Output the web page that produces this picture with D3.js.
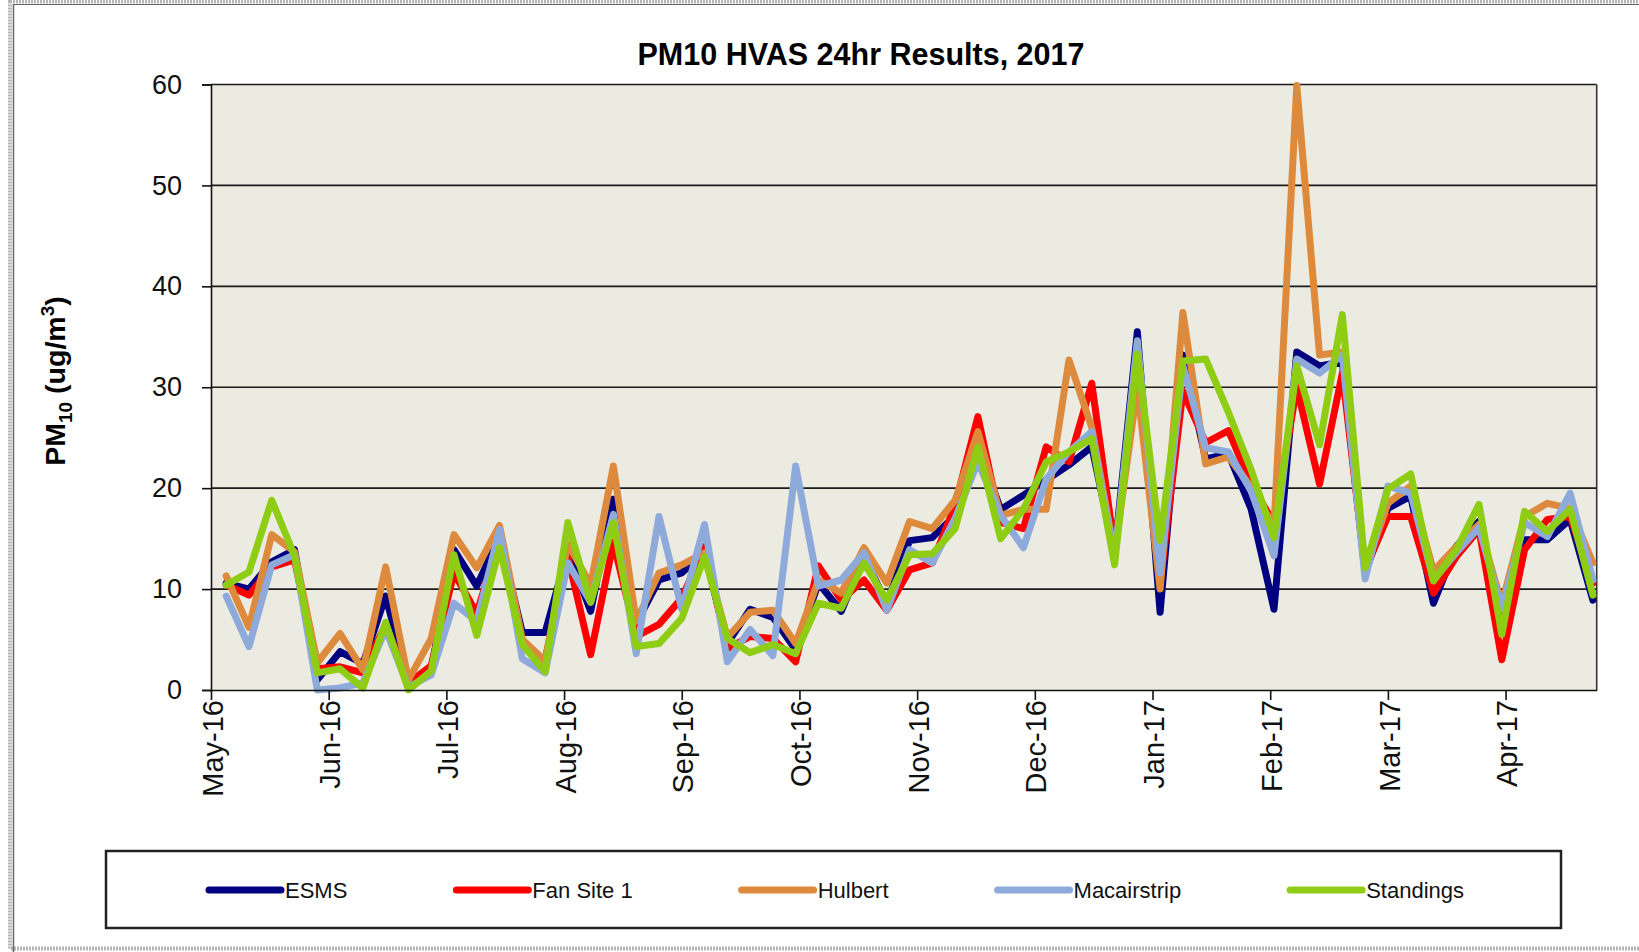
<!DOCTYPE html>
<html>
<head>
<meta charset="utf-8">
<script src="https://cdn.jsdelivr.net/npm/d3@7"></script>
<style>
  body { margin: 0; background: #fff; }
  svg { display: block; font-family: "Liberation Sans", Arial, sans-serif; }
</style>
</head>
<body>
<svg class="plot" width="1639" height="952"></svg>
<script>

// sample days (one every 6 days)
var dates = [
  "2016-05-05","2016-05-11","2016-05-17","2016-05-23","2016-05-29",
  "2016-06-04","2016-06-10","2016-06-16","2016-06-22","2016-06-28",
  "2016-07-04","2016-07-10","2016-07-16","2016-07-22","2016-07-28",
  "2016-08-03","2016-08-09","2016-08-15","2016-08-21","2016-08-27",
  "2016-09-02","2016-09-08","2016-09-14","2016-09-20","2016-09-26",
  "2016-10-02","2016-10-08","2016-10-14","2016-10-20","2016-10-26",
  "2016-11-01","2016-11-07","2016-11-13","2016-11-19","2016-11-25",
  "2016-12-01","2016-12-07","2016-12-13","2016-12-19","2016-12-25","2016-12-31",
  "2017-01-06","2017-01-12","2017-01-18","2017-01-24","2017-01-30",
  "2017-02-05","2017-02-11","2017-02-17","2017-02-23",
  "2017-03-01","2017-03-07","2017-03-13","2017-03-19","2017-03-25","2017-03-31",
  "2017-04-06","2017-04-12","2017-04-18","2017-04-24","2017-04-30"
]

var esms = [10.6,10.0,12.7,13.9,1.0, 3.8,2.6,9.3,0.7,2.1, 13.9,10.3,15.2,5.7,5.7,
  13.8,7.8,18.9,6.6,10.9, 11.6,13.6,4.6,8.0,7.2, 4.0,10.6,7.8,13.2,8.6,
  14.8,15.1,17.3,24.2,17.9, 19.3,20.8,22.3,24.1,13.5,35.5,
  7.7,33.2,22.9,23.4,17.9, 8.0,33.5,32.1,32.5, 11.6,18.0,19.2,8.6,14.2,16.7,
  6.0,14.9,14.9,16.9,8.9]

var fanSite1 = [10.4,9.4,12.2,12.9,2.1, 2.3,1.7,6.5,0.7,2.4, 11.6,7.6,14.9,4.3,3.0,
  13.2,3.5,14.6,5.3,6.5, 9.1,14.2,4.1,5.3,5.1, 2.8,12.3,8.9,10.9,7.9,
  11.9,12.6,18.3,27.1,16.6, 16.0,24.1,22.6,30.4,14.0,31.0,
  10.5,29.6,24.5,25.7,20.4, 16.5,30.0,20.4,31.4, 11.9,17.2,17.2,9.6,13.2,15.9,
  3.0,13.9,16.9,17.2,10.6]

var hulbert = [11.3,6.2,15.4,13.7,2.7, 5.6,2.0,12.2,1.0,5.1, 15.4,12.1,16.3,5.0,2.9,
  14.5,10.4,22.2,6.8,11.6, 12.4,13.6,5.2,7.7,7.9, 4.6,10.9,9.6,14.1,10.6,
  16.7,16.0,18.8,25.6,17.3, 17.9,17.9,32.7,26.0,13.5,30.0,
  10.0,37.4,22.4,23.1,20.1, 16.2,59.9,33.2,33.5, 11.9,18.5,20.2,11.8,14.2,16.4,
  8.5,17.2,18.5,18.0,12.6]

var macairstrip = [9.3,4.3,12.4,13.4,0.0, 0.2,0.7,6.0,0.3,1.5, 8.6,6.8,15.9,3.1,1.7,
  12.6,8.7,17.4,3.6,17.2, 8.0,16.4,2.8,6.0,3.4, 22.2,10.3,10.9,13.6,7.9,
  13.9,12.6,17.0,22.6,17.3, 14.1,20.9,23.6,25.6,13.0,34.6,
  11.6,32.1,24.0,23.6,19.7, 13.3,32.8,31.4,33.2, 11.0,20.2,19.5,10.9,13.6,16.1,
  8.0,16.6,15.2,19.5,10.9]

var standings = [10.4,11.7,18.8,13.3,1.7, 2.1,0.2,6.7,0.0,1.9, 13.4,5.4,14.1,4.5,1.8,
  16.6,8.7,16.6,4.3,4.6, 7.1,13.2,5.1,3.7,4.5, 3.6,8.6,8.1,12.6,8.9,
  13.4,13.5,16.0,24.1,15.0, 17.9,22.6,23.6,24.9,12.4,33.3,
  14.8,32.6,32.8,27.5,21.8, 15.1,32.1,24.3,37.2, 12.1,19.9,21.4,10.8,13.9,18.4,
  5.5,17.7,15.7,17.9,9.4]

var seriesNames = ["ESMS", "Fan Site 1", "Hulbert", "Macairstrip", "Standings"]
var seriesColors = ["#000080", "#ff0000", "#dd8a3c", "#8eaadb", "#8fcc14"]
var seriesValues = [esms, fanSite1, hulbert, macairstrip, standings]

// x ticks land every 31 days from the axis start
var tickDates = ["2016-05-01","2016-06-01","2016-07-02","2016-08-02","2016-09-02","2016-10-03",
  "2016-11-03","2016-12-04","2017-01-04","2017-02-04","2017-03-07","2017-04-07"]
var yTicks = [0, 10, 20, 30, 40, 50, 60]

var title = "PM10 HVAS 24hr Results, 2017"

// plot box
var margin = {top: 84.5, left: 211, right: 1596.7, bottom: 690}

var parse = d3.utcParse("%Y-%m-%d")

var x = d3.scaleUtc()
    .domain([parse("2016-05-01"), parse("2017-05-01")])
    .range([margin.left, margin.right])

var y = d3.scaleLinear()
    .domain([0, 60])
    .range([margin.bottom, margin.top])

var svg = d3.select(".plot")

// grey frame of the original screenshot
svg.append("rect")
    .attr("x", 10).attr("y", 1.5).attr("width", 1640).attr("height", 947)
    .attr("fill", "none").attr("stroke", "#b5b5b5").attr("stroke-width", 4)
    .attr("stroke-dasharray", "2,1")
svg.append("line")
    .attr("x1", 13.5).attr("x2", 13.5).attr("y1", 4).attr("y2", 952)
    .attr("stroke", "#666").attr("stroke-width", 1.5)
svg.append("line")
    .attr("x1", 13).attr("x2", 1639).attr("y1", 4.5).attr("y2", 4.5)
    .attr("stroke", "#666").attr("stroke-width", 1)

// title
svg.append("text")
    .attr("x", 861).attr("y", 65)
    .attr("text-anchor", "middle")
    .attr("font-size", 30.5).attr("font-weight", "bold")
    .text(title)

// plot background
svg.append("rect")
    .attr("x", margin.left).attr("y", margin.top)
    .attr("width", margin.right - margin.left).attr("height", margin.bottom - margin.top)
    .attr("fill", "#ecebe1")

// gridlines
svg.append("g").selectAll("line")
    .data(yTicks.filter(d => d > 0))
    .enter().append("line")
    .attr("x1", margin.left).attr("x2", margin.right)
    .attr("y1", d => y(d)).attr("y2", d => y(d))
    .attr("stroke", "#1a1a1a").attr("stroke-width", 1.6)

// right border
svg.append("line")
    .attr("x1", margin.right).attr("x2", margin.right)
    .attr("y1", margin.top).attr("y2", margin.bottom)
    .attr("stroke", "#333").attr("stroke-width", 1.6)

// the lines
var line = d3.line()
    .x((d, i) => x(parse(dates[i])))
    .y(d => y(d))

svg.append("g").selectAll("path")
    .data(seriesValues)
    .enter().append("path")
    .attr("d", d => line(d))
    .attr("fill", "none")
    .attr("stroke", (d, i) => seriesColors[i])
    .attr("stroke-width", 7)
    .attr("stroke-linejoin", "round")
    .attr("stroke-linecap", "round")

// y axis
var yAxis = svg.append("g")
    .attr("transform", `translate(${margin.left}, 0)`)
    .call(d3.axisLeft(y).tickValues(yTicks).tickSize(9).tickPadding(20))
yAxis.select(".domain").attr("stroke", "#111").attr("stroke-width", 1.6)
yAxis.selectAll(".tick line").attr("stroke", "#111").attr("stroke-width", 1.6)
yAxis.selectAll("text")
    .attr("font-size", 27).attr("font-family", "'Liberation Sans', Arial, sans-serif")
    .attr("fill", "#111")

// x axis
var xAxis = svg.append("g")
    .attr("transform", `translate(0, ${margin.bottom})`)
    .call(d3.axisBottom(x)
        .tickValues(tickDates.map(parse))
        .tickFormat(d3.utcFormat("%b-%y"))
        .tickSize(10).tickSizeOuter(0))
xAxis.select(".domain").attr("stroke", "#111").attr("stroke-width", 1.6)
xAxis.selectAll(".tick line").attr("stroke", "#111").attr("stroke-width", 1.6)
xAxis.selectAll("text")
    .attr("font-size", 29).attr("font-family", "'Liberation Sans', Arial, sans-serif")
    .attr("fill", "#111")
    .attr("text-anchor", "end")
    .attr("dy", "0.35em")
    .attr("transform", "translate(1, 0) rotate(-90)")
    .attr("x", -10).attr("y", 0)

// y label
var yLabel = svg.append("text")
    .attr("transform", "translate(65, 381) rotate(-90)")
    .attr("text-anchor", "middle")
    .attr("font-size", 28.5).attr("font-weight", "bold")
yLabel.append("tspan").text("PM")
yLabel.append("tspan").attr("font-size", 19).attr("dy", 7).text("10")
yLabel.append("tspan").attr("dy", -7).text(" (ug/m")
yLabel.append("tspan").attr("font-size", 19).attr("dy", -11).text("3")
yLabel.append("tspan").attr("dy", 11).text(")")

// legend box and entries
svg.append("rect")
    .attr("x", 106).attr("y", 851).attr("width", 1455).attr("height", 77)
    .attr("fill", "#fff").attr("stroke", "#222").attr("stroke-width", 2.5)
var legend = svg.append("g")

var lx = 209
seriesNames.forEach((name, i) => {
    var item = legend.append("g")
    item.append("line")
        .attr("x1", lx).attr("x2", lx + 72).attr("y1", 890).attr("y2", 890)
        .attr("stroke", seriesColors[i]).attr("stroke-width", 7)
        .attr("stroke-linecap", "round")
    var t = item.append("text")
        .attr("x", lx + 76).attr("y", 898)
        .attr("font-size", 22).attr("fill", "#111")
        .text(name)
    lx += 76 + t.node().getComputedTextLength() + 109
})

</script>
</body>
</html>
